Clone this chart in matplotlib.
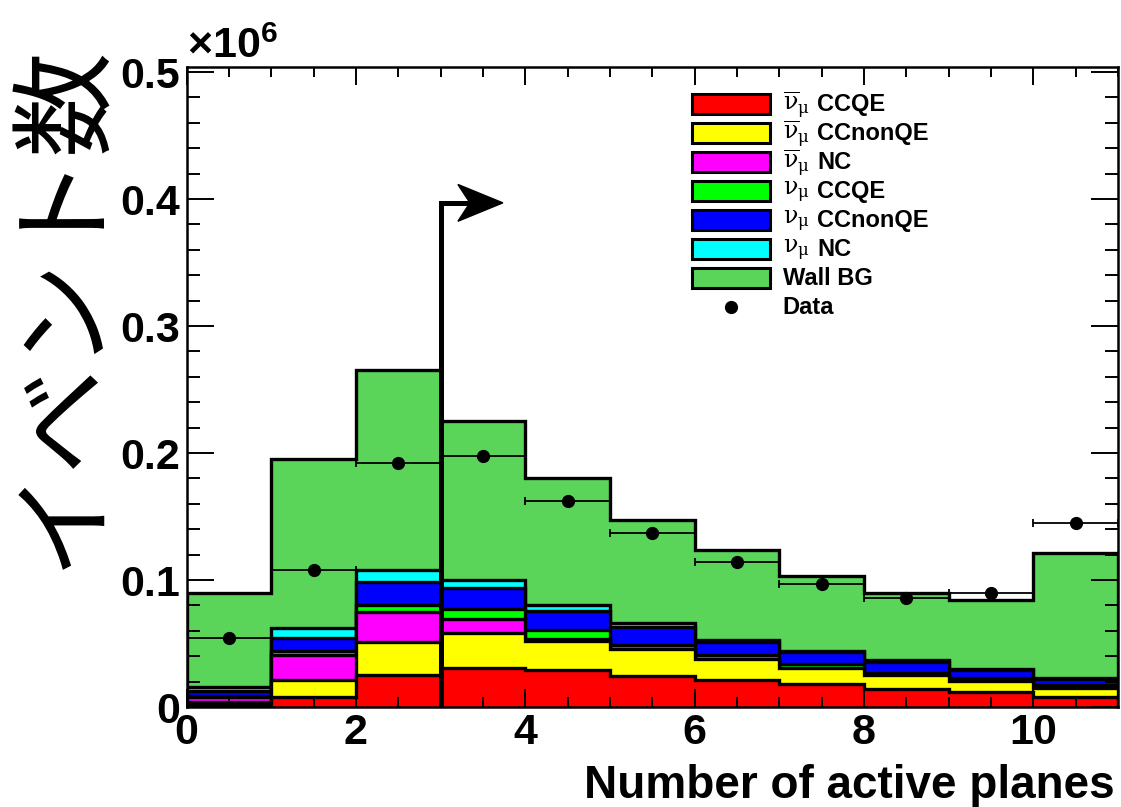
import numpy as np
import matplotlib
matplotlib.use("Agg")
import matplotlib.pyplot as plt
from matplotlib.patches import Rectangle, Polygon
from matplotlib.lines import Line2D
from matplotlib.ticker import MultipleLocator, FuncFormatter

plt.rcParams['font.family'] = ['Liberation Sans', 'DejaVu Sans']
plt.rcParams['mathtext.fontset'] = 'custom'
plt.rcParams['mathtext.rm'] = 'DejaVu Serif'
plt.rcParams['mathtext.it'] = 'DejaVu Serif:italic'
plt.rcParams['mathtext.bf'] = 'Liberation Sans:bold'

# Number of active planes: bins 0..11
bin_edges = np.arange(0, 12)

# Event counts per bin, in thousands of events
numubar_ccqe = [1.5, 8.0, 25.0, 31.0, 29.0, 24.7, 21.3, 18.0, 14.0, 11.6, 8.0]
numubar_ccnonqe = [2.5, 13.0, 26.0, 27.5, 23.0, 21.0, 16.2, 12.5, 11.0, 9.1, 6.7]
numubar_nc = [4.0, 20.0, 23.5, 11.1, 1.5, 0.3, 0.5, 0.5, 0.5, 0.3, 0.3]
numu_ccqe = [1.0, 3.0, 5.5, 7.4, 7.1, 3.0, 3.0, 3.0, 1.5, 2.0, 2.0]
numu_ccnonqe = [4.0, 10.6, 18.7, 17.0, 15.0, 14.0, 10.4, 9.0, 8.4, 6.0, 5.0]
numu_nc = [3.0, 7.4, 9.3, 6.0, 4.4, 3.0, 1.6, 1.0, 1.6, 1.0, 1.0]
wall_bg = [74.0, 133.0, 157.0, 125.0, 100.0, 81.0, 71.0, 59.0, 53.0, 54.0, 98.0]
data = [54.0, 108.0, 192.0, 198.0, 162.0, 137.0, 114.0, 97.0, 86.0, 90.0, 145.0]

cut_value = 3

# legend labels: neutrino symbol + interaction channel
nu_symbols = [r'$\overline{\mathrm{\nu}}_{\mathrm{\mu}}$'] * 3 + [r'$\mathrm{\nu}_{\mathrm{\mu}}$'] * 3 + ['']
channels = ['CCQE', 'CCnonQE', 'NC', 'CCQE', 'CCnonQE', 'NC', 'Wall BG']
colors = ['#ff0000', '#ffff00', '#ff00ff', '#00ff00', '#0000ff', '#00ffff', '#5ad55a']

scale = 1e-3  # thousands -> units of 10^6

components = np.array([numubar_ccqe, numubar_ccnonqe, numubar_nc,
                       numu_ccqe, numu_ccnonqe, numu_nc, wall_bg]) * scale
cumulative = np.cumsum(components, axis=0)

fig = plt.figure(figsize=(11.21, 8.07), dpi=100)
ax = fig.add_axes([0.1665, 0.1239, 0.8308, 0.7931])

# stacked histogram: draw the full stack first, lower layers on top
for i in range(len(components) - 1, -1, -1):
    ax.stairs(cumulative[i], bin_edges, baseline=0, fill=True,
              facecolor=colors[i], edgecolor='black', linewidth=2.4, zorder=1)

centers = 0.5 * (bin_edges[:-1] + bin_edges[1:])
half_width = 0.5 * np.diff(bin_edges)
ax.errorbar(centers, np.array(data) * scale, xerr=half_width, fmt='o',
            color='black', ms=8.5, elinewidth=1.3, capsize=3, capthick=1.3,
            zorder=3)

# selection cut arrow
arrow_y = 0.397
ax.plot([cut_value, cut_value, cut_value + 0.35], [0, arrow_y, arrow_y],
        color='black', lw=3.6, solid_joinstyle='miter', solid_capstyle='butt',
        zorder=4)
head = Polygon([[cut_value + 0.735, arrow_y],
                [cut_value + 0.204, arrow_y + 0.0145],
                [cut_value + 0.346, arrow_y],
                [cut_value + 0.204, arrow_y - 0.0145]],
               closed=True, facecolor='black', edgecolor='black', lw=1, zorder=4)
ax.add_patch(head)

ax.set_xlim(0, 11)
ax.set_ylim(0, 0.504)

ax.xaxis.set_major_locator(MultipleLocator(2))
ax.xaxis.set_minor_locator(MultipleLocator(0.5))
ax.yaxis.set_major_locator(MultipleLocator(0.1))
ax.yaxis.set_minor_locator(MultipleLocator(0.02))
ax.yaxis.set_major_formatter(FuncFormatter(lambda v, p: '0' if abs(v) < 1e-9 else f'{v:.1f}'))
ax.xaxis.set_major_formatter(FuncFormatter(lambda v, p: f'{v:.0f}'))

ax.tick_params(which='both', direction='in', top=True, right=True, width=1.4)
ax.tick_params(axis='y', which='major', length=19.5, pad=5)
ax.tick_params(axis='y', which='minor', length=9.5)
ax.tick_params(axis='x', which='major', length=13, pad=4)
ax.tick_params(axis='x', which='minor', length=7)
for lab in ax.get_xticklabels() + ax.get_yticklabels():
    lab.set_fontsize(31)
    lab.set_fontweight('bold')
for sp in ax.spines.values():
    sp.set_linewidth(1.8)

# axis titles
fig.text(0.9947, 0.011, 'Number of active planes', ha='right', va='baseline',
         fontsize=33, fontweight='bold')
fig.text(0.056, 0.622, 'イベント数', rotation=90, ha='center', va='center',
         fontsize=76, family=['Noto Sans CJK JP', 'DejaVu Sans'])
fig.text(0.167, 0.928, r'×10$^{\mathbf{6}}$', ha='left', va='baseline',
         fontsize=31, fontweight='bold')

# legend
rect_x, rect_w, rect_h = 0.5426, 0.0838, 0.0313
sym_x, text_x = 0.640, 0.677
row_y0, row_step = 0.942, 0.0453
for i, (sym, chan, col) in enumerate(zip(nu_symbols, channels, colors)):
    yc = row_y0 - i * row_step
    ax.add_patch(Rectangle((rect_x, yc - rect_h / 2), rect_w, rect_h,
                           transform=ax.transAxes, facecolor=col,
                           edgecolor='black', lw=2.2, zorder=5))
    if sym:
        ax.text(sym_x, yc - 0.002, sym, transform=ax.transAxes, ha='left',
                va='center', fontsize=17, zorder=5)
        ax.text(text_x, yc, chan, transform=ax.transAxes, ha='left',
                va='center', fontsize=17, fontweight='bold', zorder=5)
    else:
        ax.text(sym_x, yc, chan, transform=ax.transAxes, ha='left',
                va='center', fontsize=17, fontweight='bold', zorder=5)
yc = row_y0 - len(channels) * row_step
ax.add_line(Line2D([rect_x + rect_w / 2], [yc], transform=ax.transAxes,
                   marker='o', ms=8.5, color='black', ls='none', zorder=5))
ax.text(sym_x, yc, 'Data', transform=ax.transAxes, ha='left', va='center',
        fontsize=17, fontweight='bold', zorder=5)

fig.savefig('out.png', dpi=100)
